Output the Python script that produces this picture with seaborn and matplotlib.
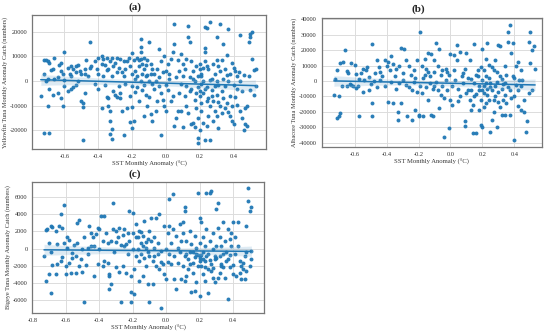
import numpy as np
import pandas as pd
import matplotlib
matplotlib.use("Agg")
import matplotlib.pyplot as plt
import seaborn as sns

# ---------------- data ----------------
# Panel (a): Yellowfin tuna
a_pts = [
    (-0.74, -6000), (-0.72, 3000), (-0.72, 8500), (-0.72, -21000), (-0.71, 8500), (-0.71, 0),
    (-0.70, 8000), (-0.70, -10000), (-0.70, 1000), (-0.69, -21000), (-0.69, -3000), (-0.69, 7500),
    (-0.67, 5000), (-0.67, -5500), (-0.66, 9500), (-0.66, 1000), (-0.64, -5000), (-0.64, 1500),
    (-0.62, 7500), (-0.62, 4000), (-0.62, -7000), (-0.61, 3000), (-0.61, -10000), (-0.60, 12000),
    (-0.60, 500), (-0.60, -2000), (-0.58, 5500), (-0.58, -4000), (-0.56, 2000), (-0.56, -3000),
    (-0.56, 6000), (-0.55, 5000), (-0.55, -2500), (-0.53, 6000), (-0.53, 3500), (-0.53, -1500),
    (-0.52, 6500), (-0.52, 0), (-0.50, 3000), (-0.50, -8000), (-0.49, -9000), (-0.49, -10500),
    (-0.49, -24000), (-0.48, 5000), (-0.48, -5000), (-0.48, 3000), (-0.47, 8500), (-0.45, 16000),
    (-0.45, 5500), (-0.44, 6000), (-0.42, 8000), (-0.42, -1000), (-0.40, 9500), (-0.40, 3000),
    (-0.40, -3000), (-0.38, 10000), (-0.38, 7000), (-0.38, -11000), (-0.37, 9000), (-0.37, 2000),
    (-0.36, 6500), (-0.36, -1500), (-0.35, 9500), (-0.35, -6500), (-0.35, 4500), (-0.34, 5000),
    (-0.34, -7000), (-0.34, -10000), (-0.33, 8000), (-0.33, -12000), (-0.33, -16000), (-0.33, -21500),
    (-0.32, 9500), (-0.32, 2000), (-0.32, -23500), (-0.32, -19500), (-0.31, 6000), (-0.31, -4000),
    (-0.30, 7500), (-0.30, -5500), (-0.29, 9500), (-0.29, 3500), (-0.29, -6500), (-0.28, 5500),
    (-0.28, -2000), (-0.27, 9000), (-0.27, -7000), (-0.27, -5000), (-0.26, 3500), (-0.26, -12000),
    (-0.25, 8000), (-0.25, -22000), (-0.24, 5000), (-0.24, -1000), (-0.23, 8000), (-0.23, -11000),
    (-0.21, 6000), (-0.21, -6000), (-0.21, -16500), (-0.20, 11500), (-0.20, 3000), (-0.20, -2000),
    (-0.20, -19000), (-0.20, -10500), (-0.19, 8500), (-0.19, -16000), (-0.18, 4000), (-0.18, -4500),
    (-0.17, 9500), (-0.17, 2000), (-0.16, 8500), (-0.16, 6000), (-0.16, -8000), (-0.15, 17000),
    (-0.15, 14000), (-0.15, 12000), (-0.15, 9000), (-0.15, 0), (-0.14, 7000), (-0.14, 3000),
    (-0.14, -3500), (-0.13, 9500), (-0.13, 5000), (-0.13, -1500), (-0.13, -14000), (-0.12, 6500),
    (-0.12, -5500), (-0.11, 8500), (-0.11, 2500), (-0.11, -10000), (-0.10, 16000), (-0.10, 0),
    (-0.10, -6500), (-0.09, 3000), (-0.09, -13500), (-0.08, 5000), (-0.08, -16000), (-0.07, 3000),
    (-0.07, -3000), (-0.06, 0), (-0.06, -12000), (-0.05, 5000), (-0.05, -8000), (-0.04, 13000),
    (-0.04, -2000), (-0.03, 8000), (-0.03, -5000), (-0.03, -22000), (-0.02, 3500), (-0.02, -7500),
    (-0.01, 10000), (-0.01, -10000), (0.00, 4000), (0.00, -12000), (0.00, -1500), (0.01, 7000),
    (0.01, -3500), (0.02, 3000), (0.02, 1000), (0.03, 9000), (0.03, -8000), (0.04, 12000),
    (0.04, -6000), (0.05, 23000), (0.05, 15000), (0.05, -18000), (0.06, 1500), (0.06, -15000),
    (0.07, 8500), (0.07, -12000), (0.08, 4000), (0.08, -5000), (0.09, 11000), (0.09, -1000),
    (0.09, -12000), (0.10, 7000), (0.10, -18500), (0.10, 2000), (0.11, 5000), (0.11, -6000),
    (0.12, 9000), (0.12, -10000), (0.13, 22500), (0.13, 18000), (0.13, -13000), (0.14, 16000),
    (0.14, 1500), (0.14, -4000), (0.15, 8000), (0.15, -17500), (0.16, 4000), (0.16, -17000),
    (0.17, 0), (0.17, -18500), (0.17, -7500), (0.18, 6000), (0.18, -11000), (0.19, 2000),
    (0.19, -2500), (0.19, -15000), (0.19, -23000), (0.19, -25000), (0.20, 7000), (0.20, 5000),
    (0.20, -4000), (0.20, -6000), (0.20, -20000), (0.21, 3000), (0.21, -1000), (0.21, -9000),
    (0.21, -12000), (0.22, 5500), (0.22, 0), (0.22, -5000), (0.22, -17000), (0.23, 22000),
    (0.23, 13500), (0.23, 12000), (0.23, 8000), (0.23, -24000), (0.24, 21500), (0.24, 6000),
    (0.24, -2500), (0.24, -18000), (0.25, 5000), (0.25, -7000), (0.25, -14000), (0.26, 24000),
    (0.26, 500), (0.26, -10000), (0.26, -24000), (0.27, 1000), (0.27, -3500), (0.28, 7000),
    (0.28, -8000), (0.28, -16000), (0.29, 3000), (0.29, -12000), (0.30, 18000), (0.30, 8500),
    (0.30, 0), (0.30, -5500), (0.30, -14000), (0.31, 6000), (0.31, -1500), (0.31, -19000),
    (0.32, 23000), (0.32, 4000), (0.32, -10000), (0.33, 8500), (0.33, -13000), (0.34, 15000),
    (0.34, 1000), (0.34, -7000), (0.35, 5000), (0.35, -2000), (0.36, 10500), (0.36, -9000),
    (0.37, 21000), (0.37, 0), (0.37, -12500), (0.38, 3000), (0.38, -6000), (0.39, 7500),
    (0.39, -10000), (0.39, -16000), (0.40, 5500), (0.40, -1500), (0.40, -17500), (0.41, 4000),
    (0.41, -6500), (0.42, 2000), (0.42, -9500), (0.44, 18500), (0.44, 0), (0.44, -12000),
    (0.45, -15000), (0.45, -4000), (0.46, 2500), (0.46, -20000), (0.47, -11000), (0.47, -17500),
    (0.48, -10000), (0.48, -18000), (0.49, 16000), (0.49, 2000), (0.50, 19000), (0.50, 18000),
    (0.50, -3500), (0.51, 20000), (0.51, 9000), (0.52, 4500), (0.52, -5500), (0.53, 5000),
    (0.53, -2000),
    # denser middle cluster
    (-0.18, 1000), (-0.12, 2000), (-0.08, -1000), (-0.04, 1500), (0.12, -2000), (0.15, -3000),
    (0.16, 1000), (0.18, -5000), (0.21, 2000), (0.23, -3000), (0.24, -8000), (0.27, -6000),
    (0.29, -2000), (0.31, -8500), (0.33, -4000), (0.35, -11000), (0.36, 2500), (0.38, -14000),
    (0.42, -3000), (0.43, 3500), (-0.25, 2000), (-0.22, 9500), (-0.17, -2500), (-0.09, 7000),
    (-0.68, 4500), (-0.63, 6500), (-0.57, 3000), (-0.51, 4000), (-0.46, 2000), (-0.41, 5000),
]
x_a = [p[0] for p in a_pts]
y_a = [p[1] for p in a_pts]

# Panel (b): Albacore tuna
b_pts = [
    (-0.73, -9000), (-0.72, 1000), (-0.71, -24000), (-0.71, 7000), (-0.70, -23000), (-0.70, -10000),
    (-0.69, 11500), (-0.69, -21000), (-0.68, -3000), (-0.67, 12500), (-0.66, 20000), (-0.65, 6500),
    (-0.65, -3500), (-0.64, 5000), (-0.63, -2000), (-0.62, 11500), (-0.61, -3000), (-0.60, 10500),
    (-0.59, 4500), (-0.59, -4500), (-0.58, -3000), (-0.57, -22500), (-0.56, 5000), (-0.55, 8000),
    (-0.55, -7000), (-0.54, 500), (-0.53, 7000), (-0.52, 9000), (-0.51, -6000), (-0.51, 2500),
    (-0.49, 24000), (-0.49, -14500), (-0.49, -23000), (-0.48, 0), (-0.47, 5000), (-0.46, 13500),
    (-0.46, -4000), (-0.45, 9000), (-0.44, 500), (-0.43, 3000), (-0.41, 13500), (-0.41, -3500),
    (-0.40, 9500), (-0.39, 12500), (-0.39, -13500), (-0.38, 7000), (-0.37, 16000), (-0.37, -500),
    (-0.36, -14500), (-0.36, 11000), (-0.35, 3000), (-0.34, -5000), (-0.34, 8000), (-0.33, -25500),
    (-0.33, -20000), (-0.32, -1500), (-0.32, 9500), (-0.31, 21500), (-0.31, -14500), (-0.30, 500),
    (-0.29, 21000), (-0.28, -2500), (-0.28, 13500), (-0.27, -23000), (-0.26, 9500), (-0.25, 4000),
    (-0.24, -25500), (-0.24, -6000), (-0.23, 7000), (-0.23, -500), (-0.22, -19000), (-0.21, 13500),
    (-0.21, -7000), (-0.20, -22000), (-0.20, -23000), (-0.19, -3500), (-0.19, 32000), (-0.18, 9500),
    (-0.17, 2000), (-0.17, -23000), (-0.16, 4000), (-0.16, 14500), (-0.15, -4000), (-0.15, 8000),
    (-0.14, 18000), (-0.14, -12500), (-0.13, 3000), (-0.13, -1500), (-0.12, -22000), (-0.12, 17500),
    (-0.11, -5000), (-0.11, -23000), (-0.10, 6000), (-0.10, 13500), (-0.09, -500), (-0.09, 25000),
    (-0.08, -5500), (-0.08, 9500), (-0.07, 21000), (-0.07, -17500), (-0.06, 4000), (-0.05, -3000),
    (-0.05, 7000), (-0.04, -11000), (-0.04, -36000), (-0.03, 500), (-0.02, 6000), (-0.02, -6000),
    (-0.01, 4000), (-0.01, -30500), (0.00, 17500), (0.00, -12500), (0.01, -3000), (0.01, -15500),
    (0.02, 17000), (0.02, 7000), (0.03, 500), (0.04, 13500), (0.04, 23500), (0.05, -5000),
    (0.06, 19000), (0.06, -10000), (0.07, 3000), (0.08, -1500), (0.09, -26000), (0.09, -29000),
    (0.09, 8000), (0.10, 18000), (0.11, -5500), (0.11, 2000), (0.12, -12500), (0.12, 13500),
    (0.13, -19000), (0.13, -5500), (0.14, -34000), (0.14, -15500), (0.15, -1500), (0.15, 24000),
    (0.16, -34000), (0.16, -8500), (0.17, 3000), (0.17, 7000), (0.18, -19000), (0.18, -6000),
    (0.19, -12500), (0.19, -28500), (0.20, 21000), (0.20, 500), (0.20, -29500), (0.21, 7000),
    (0.21, -3500), (0.21, -8000), (0.22, 14500), (0.22, -14500), (0.22, 3000), (0.23, 25000),
    (0.23, -5000), (0.24, 10500), (0.24, -12500), (0.25, -33000), (0.25, -1500), (0.26, -25500),
    (0.26, -6000), (0.27, -20000), (0.27, 7000), (0.28, 13500), (0.28, -10000), (0.29, -29500),
    (0.29, -500), (0.30, 23500), (0.30, -13500), (0.31, 3000), (0.31, 22500), (0.32, -22000),
    (0.32, -5000), (0.33, -12500), (0.34, 9500), (0.34, -22000), (0.34, -1500), (0.35, -14500),
    (0.36, 25500), (0.36, 32000), (0.37, 36500), (0.37, -22000), (0.37, -6000), (0.38, 18000),
    (0.39, 3000), (0.39, 24500), (0.40, -38500), (0.40, -10000), (0.41, 9500), (0.41, -2500),
    (0.42, -16500), (0.42, 12500), (0.43, 500), (0.44, -19000), (0.44, -3500), (0.45, 500),
    (0.46, -20000), (0.47, -33000), (0.48, -26000), (0.49, -8000), (0.49, 25500), (0.50, 31500),
    (0.50, 11500), (0.51, 20000), (0.51, -5500), (0.52, 22500), (0.53, 8000),
    # denser middle cluster
    (-0.62, -2500), (-0.57, 1500), (-0.50, -2000), (-0.44, 6000), (-0.30, 5000), (-0.26, -4000),
    (-0.22, 2000), (-0.18, -8000), (-0.14, 6000), (-0.10, -3000), (-0.06, -9000), (-0.03, 8000),
    (0.05, -13000), (0.08, 5000), (0.10, -8000), (0.13, 1000), (0.15, -10000), (0.16, 4000),
    (0.18, -3000), (0.19, 9000), (0.20, -6000), (0.21, -17000), (0.22, -1000), (0.23, -9000),
    (0.24, 2000), (0.25, -4000), (0.26, 9000), (0.27, -12000), (0.28, -3000), (0.29, 6000),
    (0.30, -7000), (0.31, -17000), (0.32, 1000), (0.33, -2000), (0.34, -9000), (0.35, 4000),
    (0.36, -4000), (0.38, -11000), (0.40, 2000), (0.42, -6000), (0.44, 7000), (0.46, -12000),
]
x_b = [p[0] for p in b_pts]
y_b = [p[1] for p in b_pts]

# Panel (c): Bigeye tuna
c_pts = [
    (-0.73, -850), (-0.72, -3850), (-0.72, 2150), (-0.71, 2250), (-0.70, -3000), (-0.69, 2650),
    (-0.69, -400), (-0.69, -5250), (-0.68, -1900), (-0.68, 2550), (-0.66, 2050), (-0.66, -3000),
    (-0.65, -1750), (-0.64, 2650), (-0.63, 4000), (-0.63, -1450), (-0.62, -950), (-0.62, 2350),
    (-0.61, 5050), (-0.61, 700), (-0.60, -3000), (-0.60, -2000), (-0.59, 1400), (-0.59, 100),
    (-0.58, -1700), (-0.57, -2800), (-0.56, -550), (-0.56, -1050), (-0.55, 400), (-0.54, -2850),
    (-0.54, -850), (-0.53, 2950), (-0.52, -2000), (-0.52, 3350), (-0.51, -1250), (-0.50, 0),
    (-0.50, -2700), (-0.49, -6200), (-0.49, 1300), (-0.48, -1950), (-0.47, 100), (-0.47, -650),
    (-0.46, 2650), (-0.45, 300), (-0.44, 1300), (-0.43, -3200), (-0.43, 300), (-0.42, 1650),
    (-0.41, 2450), (-0.41, -1800), (-0.40, 0), (-0.40, 2250), (-0.39, 3800), (-0.38, 900),
    (-0.38, -2000), (-0.37, 3800), (-0.37, -1450), (-0.36, 1850), (-0.35, 700), (-0.35, -1650),
    (-0.34, -3000), (-0.34, -4750), (-0.34, -3200), (-0.33, 900), (-0.33, -4150), (-0.32, 5350),
    (-0.32, 2250), (-0.31, -450), (-0.30, -2200), (-0.30, 800), (-0.30, 2050), (-0.29, 1300),
    (-0.28, -2700), (-0.28, 2450), (-0.27, 400), (-0.27, -6200), (-0.26, -2000), (-0.26, 1550),
    (-0.25, 300), (-0.25, 2250), (-0.24, -2800), (-0.24, 500), (-0.23, -650), (-0.23, 1850),
    (-0.22, 4400), (-0.22, 900), (-0.21, -3200), (-0.21, -5050), (-0.21, -6300), (-0.20, -100),
    (-0.20, 1850), (-0.20, 4100), (-0.19, -5300), (-0.19, -2400), (-0.18, 1300), (-0.18, -850),
    (-0.18, 2850), (-0.17, -100), (-0.17, 1300), (-0.16, -3750), (-0.16, -1450), (-0.16, 2050),
    (-0.15, 600), (-0.15, -650), (-0.14, -3200), (-0.14, 300), (-0.14, 1450), (-0.13, -1150),
    (-0.13, 3200), (-0.12, 100), (-0.12, -2000), (-0.12, 800), (-0.11, -4150), (-0.11, -450),
    (-0.10, 2050), (-0.10, -850), (-0.10, -6200), (-0.09, 900), (-0.09, 3600), (-0.08, -4150),
    (-0.08, -1450), (-0.07, 1300), (-0.07, 100), (-0.06, -2000), (-0.06, 3600), (-0.05, -650),
    (-0.05, 700), (-0.04, -2400), (-0.04, 4000), (-0.03, -6900), (-0.03, -250), (-0.03, -1550),
    (-0.02, -1800), (-0.01, 2650), (-0.01, -3000), (0.00, 0), (0.00, -3550), (0.01, -1550),
    (0.01, 1850), (0.02, 5750), (0.02, -650), (0.03, -1800), (0.03, 700), (0.04, 6350),
    (0.04, 2250), (0.05, -850), (0.05, -3550), (0.06, 1450), (0.06, -4750), (0.07, 100),
    (0.07, -1650), (0.08, 2850), (0.08, -450), (0.09, -3550), (0.09, 900), (0.10, 1850),
    (0.10, -2000), (0.10, 3050), (0.11, -3750), (0.11, 4800), (0.11, -850), (0.11, 4400),
    (0.12, -3200), (0.12, 900), (0.13, -1250), (0.13, -2400), (0.14, 2050), (0.14, -450),
    (0.15, -5100), (0.15, 500), (0.16, -2800), (0.16, -1650), (0.17, 1450), (0.17, -4950),
    (0.18, -650), (0.18, -3950), (0.18, 100), (0.19, 6500), (0.19, -2000), (0.20, 3600),
    (0.20, -1050), (0.20, -5500), (0.20, 700), (0.21, -2000), (0.21, 3050), (0.22, -450),
    (0.22, -3000), (0.22, 1300), (0.23, -1450), (0.23, -3750), (0.23, 300), (0.24, 2250),
    (0.24, 6500), (0.25, -2400), (0.25, -650), (0.25, -5250), (0.26, 6500), (0.26, 900),
    (0.27, -1800), (0.27, 6700), (0.28, -100), (0.28, -3400), (0.28, 1850), (0.29, -850),
    (0.29, -3950), (0.30, 4600), (0.30, 300), (0.31, 2450), (0.31, -3400), (0.31, 5350),
    (0.32, -850), (0.32, 1300), (0.33, -2000), (0.33, 300), (0.34, 3050), (0.34, -2200),
    (0.35, 900), (0.35, -3400), (0.36, -450), (0.37, -5900), (0.37, 2250), (0.37, -1250),
    (0.38, 1100), (0.38, -2200), (0.39, 1850), (0.39, 300), (0.40, 3050), (0.40, -3000),
    (0.41, -650), (0.41, 1300), (0.42, -3200), (0.43, 3050), (0.43, 300), (0.44, -2800),
    (0.45, -2000), (0.45, -3550), (0.46, -1650), (0.47, -3550), (0.48, -2600), (0.48, 2650),
    (0.48, -450), (0.49, 7100), (0.49, 5550), (0.50, 4400), (0.50, -2000), (0.51, 4800),
    (0.51, -1250), (0.51, -250),
    # denser middle cluster
    (0.12, -600), (0.14, -1800), (0.16, -400), (0.17, -1000), (0.19, -800), (0.20, -1500),
    (0.21, -700), (0.22, -1200), (0.23, -2200), (0.24, -900), (0.26, -1300), (0.27, -2600),
    (0.28, -2300), (0.29, -1200), (0.30, -1100), (0.32, -2800), (0.33, -1800), (0.34, -600),
    (0.36, -1500), (0.38, -800), (0.40, -1900), (0.44, -1500), (0.46, -2400), (0.47, -900),
    (-0.15, 1900), (-0.11, 1100), (-0.07, -900), (0.02, 2600), (-0.65, 500), (-0.58, 1000),
    (-0.53, 600), (-0.45, 1800), (-0.70, 700),
]
x_c = [p[0] for p in c_pts]
y_c = [p[1] for p in c_pts]

titles = ["(a)", "(b)", "(c)"]
ylabels = [
    "Yellowfin Tuna Monthly Anomaly Catch (numbers)",
    "Albacore Tuna Monthly Anomaly Catch (numbers)",
    "Bigeye Tuna Monthly Anomaly Catch (numbers)",
]
xlabel = "SST Monthly Anomaly (\u00b0C)"

# ---------------- styling ----------------
sns.set_theme(style="whitegrid")
plt.rcParams["font.family"] = ["Liberation Serif", "DejaVu Serif"]
plt.rcParams["axes.edgecolor"] = "#777777"
plt.rcParams["grid.color"] = "#dcdcdc"

W, H = 550, 332
fig = plt.figure(figsize=(W / 100, H / 100), dpi=100)

def box(l, t, r, b):
    return [l / W, 1 - b / H, (r - l) / W, (b - t) / H]

axes_boxes = [box(32.3, 15, 265.7, 149), box(321.7, 18.3, 542, 146.7), box(32.3, 182, 264, 313)]
data = [(x_a, y_a), (x_b, y_b), (x_c, y_c)]
xlims = [(-0.79, 0.59), (-0.806, 0.573), (-0.80, 0.585)]
ylims = [(-27500, 26800), (-42600, 40700), (-7530, 7770)]
xticks = [np.arange(-0.6, 0.41, 0.2), np.arange(-0.6, 0.41, 0.2), np.arange(-0.8, 0.41, 0.2)]
yticks = [np.arange(-20000, 20001, 10000), np.arange(-40000, 40001, 10000),
          np.arange(-6000, 6001, 2000)]
title_pos = [(135, 7), (418, 9), (135, 174)]

for i in range(3):
    ax = fig.add_axes(axes_boxes[i])
    df = pd.DataFrame({"x": data[i][0], "y": data[i][1]})
    sns.regplot(data=df, x="x", y="y", ax=ax, color="#1f77b4", truncate=True,
                scatter_kws={"s": 8, "alpha": 0.95, "linewidths": 0},
                line_kws={"linewidth": 1.1})
    ax.set_xlim(*xlims[i])
    ax.set_ylim(*ylims[i])
    ax.set_xticks(xticks[i])
    ax.set_xticklabels([f"{v:.1f}".replace("-0.0", "0.0") for v in xticks[i]])
    ax.set_yticks(yticks[i])
    ax.set_yticklabels([f"{int(v)}" for v in yticks[i]])
    ax.tick_params(labelsize=4.6, pad=1.5, length=2, width=0.5, colors="#333333")
    ax.set_xlabel(xlabel, fontsize=4.8, labelpad=1.5, color="#333333")
    ax.set_ylabel(ylabels[i], fontsize=4.5, labelpad=1.5, color="#333333")
    ax.grid(True, color="#dcdcdc", linewidth=0.7)
    for s in ax.spines.values():
        s.set_color("#777777")
        s.set_linewidth(0.9)
    fig.text(title_pos[i][0] / W, 1 - title_pos[i][1] / H, titles[i], ha="center", va="center",
             fontsize=8, fontweight="bold")

fig.savefig("out.png", dpi=100, facecolor="white")
